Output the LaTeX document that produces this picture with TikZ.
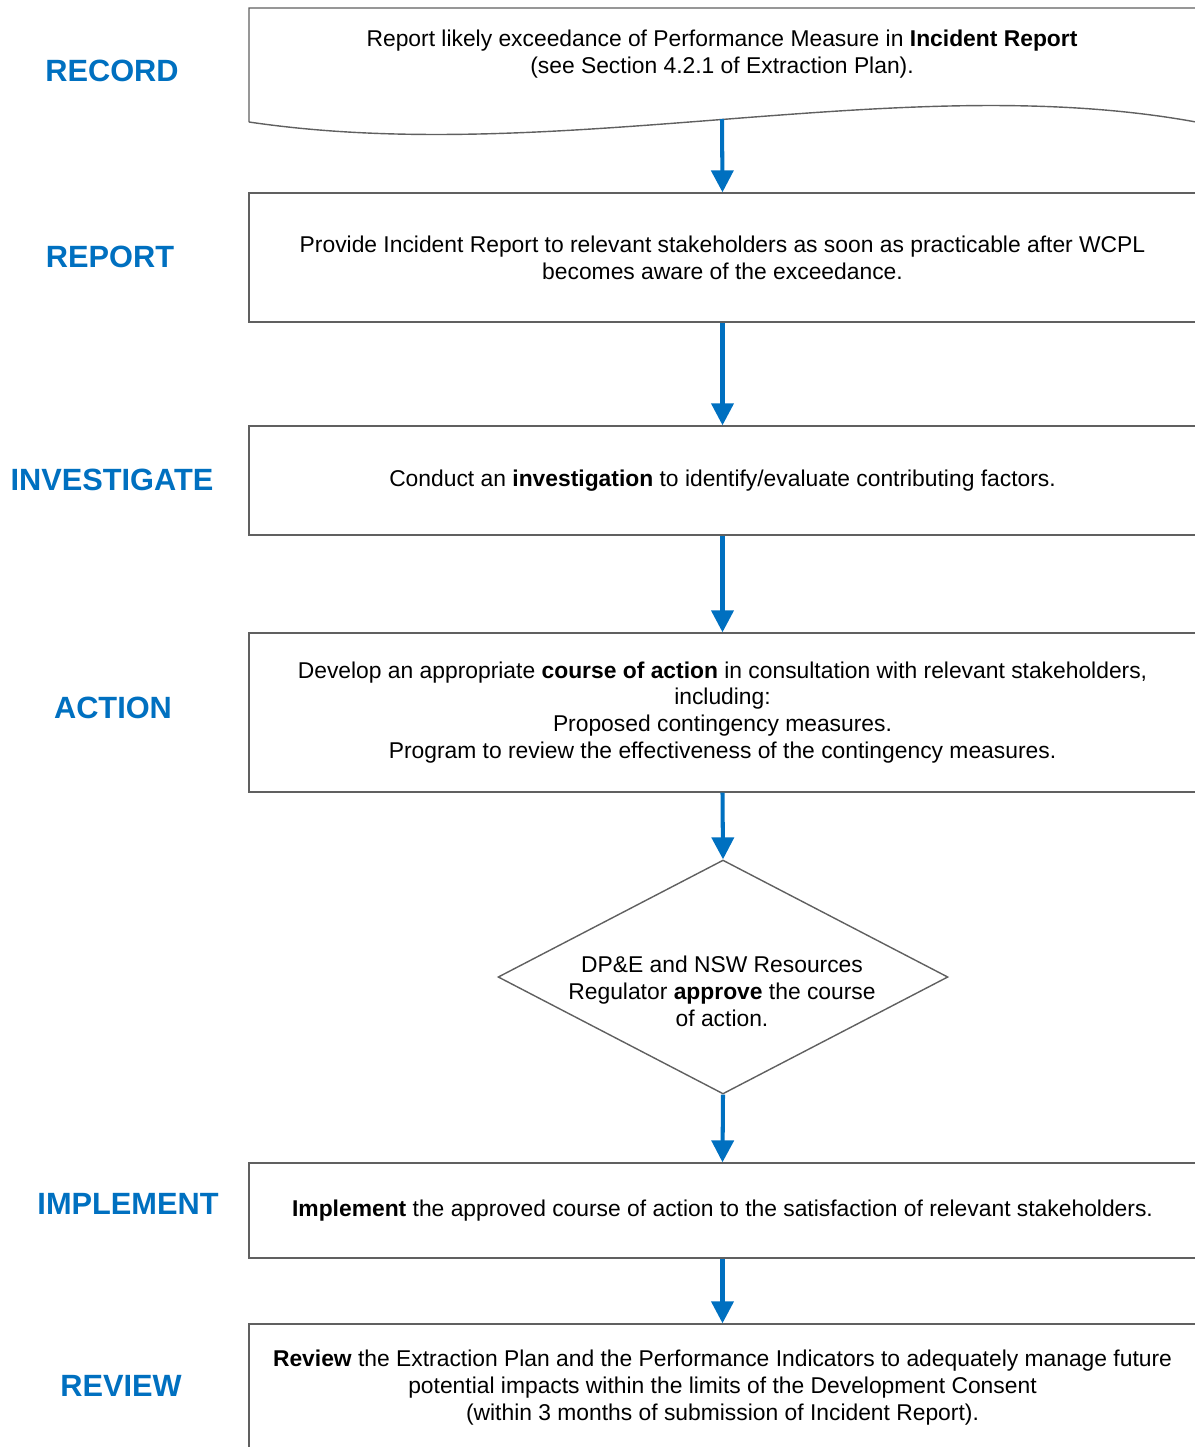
\documentclass[tikz,border=0pt]{standalone}
\usepackage{fontspec}
\setmainfont{Liberation Sans}
\usetikzlibrary{arrows.meta,shapes.geometric}
\definecolor{stageblue}{RGB}{0,112,192}
\definecolor{boxgrey}{RGB}{96,96,96}
\tikzset{
	stage/.style={font=\fontsize{17.5}{20}\selectfont\bfseries, text=stageblue},
	txt/.style={align=center, font=\fontsize{13}{15.3}\selectfont},
	box/.style={txt, draw=boxgrey, line width=0.8pt, minimum width=18.94cm, inner sep=0pt},
	flow/.style={draw=stageblue, line width=2.3pt, -{Triangle[width=12.5pt,length=12.5pt]}}
}

\begin{document}
\begin{tikzpicture}[x=0.02cm, y=-0.02cm]
			%%%%% START %%%%%
			\useasboundingbox (0, 0) rectangle (1194, 1447);
			
			\node[stage] (lblrecord) at (112, 71) {RECORD};
			\node[stage] (lblreport) at (110, 257) {REPORT};
			\node[stage] (lblinvestigate) at (112, 480) {INVESTIGATE};
			\node[stage] (lblaction) at (113, 708) {ACTION};
			\node[stage] (lblimplement) at (128, 1204) {IMPLEMENT};
			\node[stage] (lblreview) at (121, 1386) {REVIEW};
			
			% document shape, open to the right
			\draw[draw=boxgrey, line width=0.8pt] (249, 122) -- (249, 8) -- (1196, 8) -- (1196, 122)
				.. controls (900, 68) and (560, 168) .. (249, 122);
			\node[txt] (record) at (722, 54.5) {Report likely exceedance of Performance Measure in \textbf{Incident Report}\\(see Section 4.2.1 of Extraction Plan).};
			\coordinate (recordend) at (722, 119);
			
			\node[box, minimum height=2.58cm] (report) at (722.5, 257.5) {Provide Incident Report to relevant stakeholders as soon as practicable after WCPL\\becomes aware of the exceedance.};
			\node[box, minimum height=2.18cm] (investigate) at (722.5, 480.5) {Conduct an \textbf{investigation} to identify/evaluate contributing factors.};
			\node[box, minimum height=3.18cm] (action) at (722.5, 712.5) {Develop an appropriate \textbf{course of action} in consultation with relevant stakeholders,\\including:\\Proposed contingency measures.\\Program to review the effectiveness of the contingency measures.};
			
			\node[draw=boxgrey, line width=0.8pt, diamond, minimum width=9cm, minimum height=4.68cm, inner sep=0pt] (approve) at (723, 977) {};
			\node[txt] (approvetext) at (722, 991) {DP\&E and NSW Resources\\Regulator \textbf{approve} the course\\of action.};
			
			\node[box, minimum height=1.9cm] (implement) at (722.5, 1210.5) {\textbf{Implement} the approved course of action to the satisfaction of relevant stakeholders.};
			\node[box, minimum height=2.54cm] (review) at (722.5, 1387.5) {\textbf{Review} the Extraction Plan and the Performance Indicators to adequately manage future\\potential impacts within the limits of the Development Consent\\(within 3 months of submission of Incident Report).};
			
			\draw[flow] (recordend) -- (report.north);
			\draw[flow] (report.south) -- (investigate.north);
			\draw[flow] (investigate.south) -- (action.north);
			\draw[flow] (action.south) -- (approve.north);
			\draw[flow] (approve.south) -- (implement.north);
			\draw[flow] (implement.south) -- (review.north);
			%%%%% END %%%%%
\end{tikzpicture}
\end{document}
